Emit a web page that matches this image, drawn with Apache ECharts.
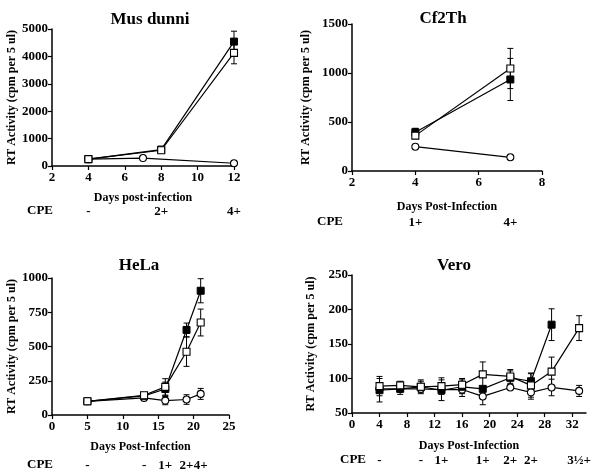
<!DOCTYPE html>
<html><head><meta charset="utf-8">
<script src="https://cdn.jsdelivr.net/npm/echarts@6/dist/echarts.min.js"></script>
<style>html,body{margin:0;padding:0;background:#fff}#c{width:597px;height:476px}</style>
</head><body><div id="c"></div>
<script>
// ---- Data ----
// Mus dunni
const musDays = [4, 8, 12];
const musFilled = [250, 600, 4540];
const musFilledErr = [0, 0, 380];
const musOpen = [250, 575, 4130];
const musOpenErr = [0, 0, 400];
const musCircleDays = [4, 7, 12];
const musCircle = [250, 290, 100];
const musCpeDays = [4, 8, 12];
const musCpe = ['-', '2+', '4+'];
// Cf2Th
const cfDays = [4, 7];
const cfFilled = [396, 934];
const cfFilledErr = [40, 215];
const cfOpen = [361, 1046];
const cfOpenErr = [30, 205];
const cfCircle = [248, 140];
const cfCpeDays = [4, 7];
const cfCpe = ['1+', '4+'];
// HeLa
const helaDays = [5, 13, 16, 19, 21];
const helaFilled = [100, 140, 190, 621, 907];
const helaFilledErr = [0, 0, 50, 50, 88];
const helaOpen = [100, 144, 205, 462, 675];
const helaOpenErr = [0, 0, 60, 107, 98];
const helaCircle = [100, 125, 105, 113, 154];
const helaCircleErr = [0, 0, 30, 35, 40];
const helaCpeDays = [5, 13, 16, 19, 21];
const helaCpe = ['-', '-', '1+', '2+', '4+'];
// Vero
const veroDays = [4, 7, 10, 13, 16, 19, 23, 26, 29, 33];
const veroFilled = [83, 85, 88, 83, 88, 85, 101, 96, 178];
const veroFilledErr = [17, 8, 8, 15, 10, 0, 10, 12, 23];
const veroOpen = [89, 90, 88, 89, 91, 106, 103, 90, 110, 173];
const veroOpenErr = [14, 6, 10, 12, 9, 18, 10, 17, 21, 18];
const veroCircle = [85, 85, 85, 84, 84, 74, 87, 80, 87, 82];
const veroCircleErr = [0, 0, 0, 0, 10, 12, 0, 10, 12, 8];
const veroCpeDays = [4, 10, 13, 19, 23, 26, 33];
const veroCpe = ['-', '-', '1+', '1+', '2+', '2+', '3½+'];

// Tick labels
const musXTicks = [2, 4, 6, 8, 10, 12];
const cfXTicks = [2, 4, 6, 8];
const helaXTicks = [0, 5, 10, 15, 20, 25];
const veroXTicks = [0, 4, 8, 12, 16, 20, 24, 28, 32];

// ---- Chart ----
const FONT = '"Liberation Serif", "Times New Roman", serif';
const chart = echarts.init(document.getElementById('c'));

const panels = [
  {title:'Mus dunni', xName:'Days post-infection', grid:{left:52, top:29, width:182, height:137},
   xMin:2, xMax:12, xInt:2, xTicks:musXTicks, yMin:0, yMax:5000, yInt:1000,
   filled:[musDays, musFilled, musFilledErr], open:[musDays, musOpen, musOpenErr], circle:[musCircleDays, musCircle, null],
   cpeDays:musCpeDays, cpe:musCpe, cpeOffset:31, xNameGap:26, yNameGap:33,
   titlePos:[150,20], cpePos:[27,211]},
  {title:'Cf2Th', xName:'Days Post-Infection', grid:{left:352, top:24, width:190, height:147},
   xMin:2, xMax:8, xInt:2, xTicks:cfXTicks, yMin:0, yMax:1500, yInt:500,
   filled:[cfDays, cfFilled, cfFilledErr], open:[cfDays, cfOpen, cfOpenErr], circle:[cfDays, cfCircle, null],
   cpeDays:cfCpeDays, cpe:cfCpe, cpeOffset:37, xNameGap:30, yNameGap:40,
   titlePos:[443,19], cpePos:[317,222]},
  {title:'HeLa', xName:'Days Post-Infection', grid:{left:52, top:278, width:177, height:137},
   xMin:0, xMax:25, xInt:5, xTicks:helaXTicks, yMin:0, yMax:1000, yInt:250,
   filled:[helaDays, helaFilled, helaFilledErr], open:[helaDays, helaOpen, helaOpenErr], circle:[helaDays, helaCircle, helaCircleErr],
   cpeDays:helaCpeDays, cpe:helaCpe, cpeOffset:36, xNameGap:26, yNameGap:33,
   titlePos:[139,266], cpePos:[27,465]},
  {title:'Vero', xName:'Days Post-Infection', grid:{left:352, top:275, width:234, height:138},
   xMin:0, xMax:34, xInt:4, xTicks:veroXTicks, yMin:50, yMax:250, yInt:50,
   filled:[veroDays, veroFilled, veroFilledErr], open:[veroDays, veroOpen, veroOpenErr], circle:[veroDays, veroCircle, veroCircleErr],
   cpeDays:veroCpeDays, cpe:veroCpe, cpeOffset:33, xNameGap:27, yNameGap:35,
   titlePos:[454,266], cpePos:[340,460]}
];

const grid = [], xAxis = [], yAxis = [], series = [], graphic = [];
const axisLineStyle = {color:'#000', width:1.5};
const labelStyle = {color:'#000', fontFamily:FONT, fontWeight:'bold', fontSize:13};

function errData(days, vals, errs) {
  const out = [];
  if (!errs) return out;
  for (let i = 0; i < vals.length; i++) {
    if (errs[i] > 0) out.push([days[i], vals[i] - errs[i], vals[i] + errs[i]]);
  }
  return out;
}
function pts(days, vals) { return vals.map((v, i) => [days[i], v]); }

function errSeries(xi, data) {
  return {
    type:'custom', xAxisIndex:xi, yAxisIndex:xi, z:1, silent:true,
    data:data,
    renderItem:function(params, api) {
      const x = api.value(0), lo = api.value(1), hi = api.value(2);
      const a = api.coord([x, hi]), b = api.coord([x, lo]);
      const w = 3;
      const st = {stroke:'#000', lineWidth:1};
      return {type:'group', children:[
        {type:'line', shape:{x1:a[0], y1:a[1], x2:b[0], y2:b[1]}, style:st},
        {type:'line', shape:{x1:a[0]-w, y1:a[1], x2:a[0]+w, y2:a[1]}, style:st},
        {type:'line', shape:{x1:b[0]-w, y1:b[1], x2:b[0]+w, y2:b[1]}, style:st}
      ]};
    }
  };
}

panels.forEach((p, i) => {
  grid.push(p.grid);
  xAxis.push({
    type:'value', gridIndex:i, min:p.xMin, max:p.xMax, interval:p.xInt,
    name:p.xName, nameLocation:'middle', nameGap:p.xNameGap,
    nameTextStyle:{color:'#000', fontFamily:FONT, fontWeight:'bold', fontSize:12},
    axisLine:{show:true, onZero:false, lineStyle:axisLineStyle},
    axisTick:{show:true, length:4, lineStyle:{color:'#000', width:1.2}, customValues:p.xTicks},
    axisLabel:Object.assign({margin:5, customValues:p.xTicks, formatter:function(v){return String(v);}}, labelStyle),
    splitLine:{show:false}
  });
  yAxis.push({
    type:'value', gridIndex:i, min:p.yMin, max:p.yMax, interval:p.yInt,
    name:'RT Activity (cpm per 5 ul)', nameLocation:'middle', nameGap:p.yNameGap, nameRotate:90,
    nameTextStyle:{color:'#000', fontFamily:FONT, fontWeight:'bold', fontSize:12},
    axisLine:{show:true, onZero:false, lineStyle:axisLineStyle},
    axisTick:{show:true, length:4, lineStyle:{color:'#000', width:1.2}},
    axisLabel:Object.assign({margin:4, formatter:function(v){return String(v);}}, labelStyle),
    splitLine:{show:false}
  });
  graphic.push({type:'text', x:p.titlePos[0], y:p.titlePos[1],
    style:{text:p.title, fill:'#000', font:'bold 17px ' + FONT, textAlign:'center', textVerticalAlign:'middle'}});
  graphic.push({type:'text', x:p.cpePos[0], y:p.cpePos[1],
    style:{text:'CPE', fill:'#000', font:'bold 13px ' + FONT, textAlign:'left', textVerticalAlign:'middle'}});
});

// CPE axes (secondary x axes in each grid)
panels.forEach((p, i) => {
  xAxis.push({
    type:'value', gridIndex:i, min:p.xMin, max:p.xMax, position:'bottom', offset:p.cpeOffset,
    axisLine:{show:false}, axisTick:{show:false}, splitLine:{show:false},
    axisLabel:Object.assign({margin:8, customValues:p.cpeDays,
      formatter:function(v){ const k = p.cpeDays.indexOf(v); return k >= 0 ? p.cpe[k] : ''; }}, labelStyle)
  });
});

panels.forEach((p, i) => {
  const lineStyle = {color:'#000', width:1.2};
  series.push(errSeries(i, errData(p.circle[0], p.circle[1], p.circle[2])));
  series.push(errSeries(i, errData(p.open[0], p.open[1], p.open[2])));
  series.push(errSeries(i, errData(p.filled[0], p.filled[1], p.filled[2])));
  series.push({type:'line', xAxisIndex:i, yAxisIndex:i, z:2, data:pts(p.circle[0], p.circle[1]),
    symbol:'circle', symbolSize:7, showAllSymbol:true,
    itemStyle:{color:'#fff', borderColor:'#000', borderWidth:1.1}, lineStyle:lineStyle});
  series.push({type:'line', xAxisIndex:i, yAxisIndex:i, z:3, data:pts(p.filled[0], p.filled[1]),
    symbol:'rect', symbolSize:7, showAllSymbol:true,
    itemStyle:{color:'#000', borderColor:'#000', borderWidth:1}, lineStyle:lineStyle});
  series.push({type:'line', xAxisIndex:i, yAxisIndex:i, z:4, data:pts(p.open[0], p.open[1]),
    symbol:'rect', symbolSize:7, showAllSymbol:true,
    itemStyle:{color:'#fff', borderColor:'#000', borderWidth:1.1}, lineStyle:lineStyle});
});

chart.setOption({
  animation:false, backgroundColor:'#fff',
  grid:grid, xAxis:xAxis, yAxis:yAxis, series:series, graphic:graphic
});
</script></body></html>
